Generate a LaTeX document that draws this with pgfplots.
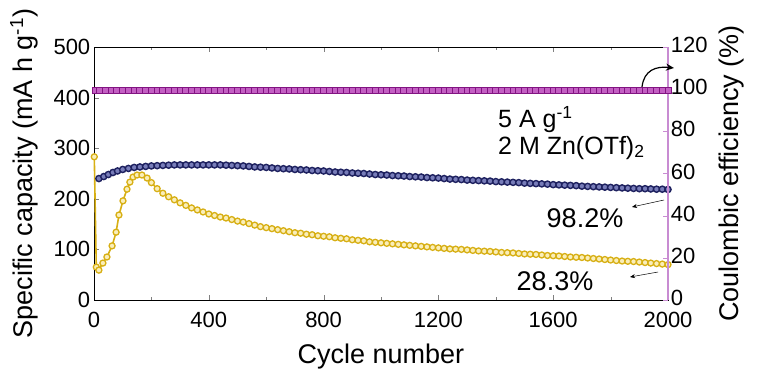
\documentclass[border=0pt]{standalone}
\usepackage{pgfplots}
\pgfplotsset{compat=1.18}
\usepackage{pgfplotstable}
\usepackage{fontspec}
\setmainfont{Liberation Sans}
\usetikzlibrary{arrows.meta}
\definecolor{navyc}{RGB}{30,33,95}
\definecolor{navyf}{RGB}{120,125,185}
\definecolor{goldc}{RGB}{215,175,20}
\definecolor{goldf}{RGB}{250,238,185}
\definecolor{purc}{RGB}{130,20,130}
\definecolor{purf}{RGB}{195,95,195}
\definecolor{violetax}{RGB}{200,140,210}

\pgfplotstableread{
c v
1 283
8 65
17 59
31 73
45 85
63 107
77 134
87 168
101 196
115 219
125 233
136 243
150 247
167 247
185 241
200 232
220 220
240 211
260 204
280 198
300 192
320 187
340 182
360 178
380 174
400 170
420 167
440 164
460 162
480 159
500 156
520 154
540 151
560 148
580 145
600 143
620 141
640 139
660 137
680 135
700 133
720 132
740 130
760 129
780 127
800 126
820 125
840 123
860 122
880 121
900 119
920 118
940 117
960 115
980 114
1000 113
1020 112
1040 111
1060 110
1080 109
1100 108
1120 107
1140 106
1160 105
1180 104
1200 103
1220 102
1240 101
1260 100.5
1280 100
1300 99
1320 98
1340 97
1360 96.5
1380 96
1400 95
1420 94
1440 93.5
1460 93
1480 92
1500 91
1520 90.5
1540 90
1560 89
1580 88
1600 87.5
1620 87
1640 86
1660 85
1680 84.5
1700 84
1720 83
1740 82
1760 81
1780 80
1800 79
1820 78
1840 77
1860 76.5
1880 76
1900 75
1920 74
1940 73
1960 72
1980 71
2000 70
}\yellowdata

\pgfplotstableread{
c v
17 240
34 244
50 248
66 252
82 255
100 258
120 260
140 262
160 263
180 264
200 265
220 265.5
240 266
260 266.5
280 267
300 267
320 267
340 267
360 267
380 267
400 267
420 267
440 267
460 266.5
480 266
500 265.5
520 265
540 264
560 263
580 262.5
600 262
620 261
640 260
660 259.5
680 259
700 258
720 257.5
740 257
760 256
780 255.5
800 255
820 254
840 253
860 252.5
880 252
900 251
920 250.5
940 250
960 249
980 248
1000 247.5
1020 247
1040 246
1060 245.5
1080 245
1100 244
1120 243.5
1140 243
1160 242
1180 241.5
1200 241
1220 240
1240 239
1260 238.5
1280 238
1300 237
1320 236.5
1340 236
1360 235.5
1380 235
1400 234
1420 233.5
1440 233
1460 232.5
1480 232
1500 231
1520 230.5
1540 230
1560 229.5
1580 229
1600 228
1620 227.5
1640 227
1660 226.5
1680 226
1700 225
1720 224.5
1740 224
1760 223.5
1780 223
1800 222.5
1820 222
1840 221.5
1860 221
1880 220.5
1900 220
1920 220
1940 219.5
1960 219
1980 219
2000 218.5
}\bluedata

\pgfplotstableread{
c v
5 99.6
20 99.6
40 99.6
60 99.6
80 99.6
100 99.6
120 99.6
140 99.6
160 99.6
180 99.6
200 99.6
220 99.6
240 99.6
260 99.6
280 99.6
300 99.6
320 99.6
340 99.6
360 99.6
380 99.6
400 99.6
420 99.6
440 99.6
460 99.6
480 99.6
500 99.6
520 99.6
540 99.6
560 99.6
580 99.6
600 99.6
620 99.6
640 99.6
660 99.6
680 99.6
700 99.6
720 99.6
740 99.6
760 99.6
780 99.6
800 99.6
820 99.6
840 99.6
860 99.6
880 99.6
900 99.6
920 99.6
940 99.6
960 99.6
980 99.6
1000 99.6
1020 99.6
1040 99.6
1060 99.6
1080 99.6
1100 99.6
1120 99.6
1140 99.6
1160 99.6
1180 99.6
1200 99.6
1220 99.6
1240 99.6
1260 99.6
1280 99.6
1300 99.6
1320 99.6
1340 99.6
1360 99.6
1380 99.6
1400 99.6
1420 99.6
1440 99.6
1460 99.6
1480 99.6
1500 99.6
1520 99.6
1540 99.6
1560 99.6
1580 99.6
1600 99.6
1620 99.6
1640 99.6
1660 99.6
1680 99.6
1700 99.6
1720 99.6
1740 99.6
1760 99.6
1780 99.6
1800 99.6
1820 99.6
1840 99.6
1860 99.6
1880 99.6
1900 99.6
1920 99.6
1940 99.6
1960 99.6
1980 99.6
2000 99.6
}\cedata

\begin{document}
\begin{tikzpicture}[x=1bp,y=1bp]
\useasboundingbox (0,0) rectangle (770,384);
\pgfplotsset{
  every axis/.append style={
    /pgf/number format/assume math mode=true,
    /pgf/number format/1000 sep={},
    tick label style={font=\fontsize{22bp}{26bp}\selectfont},
    label style={font=\fontsize{27bp}{31bp}\selectfont},
    tick align=inside,
    major tick length=5bp,
    minor tick length=3bp,
    line width=0.9bp,
  }
}
\begin{axis}[
  at={(94bp,84bp)}, anchor=south west,
  width=574bp, height=253bp, scale only axis,
  xmin=0, xmax=2000, ymin=0, ymax=500,
  xtick={0,400,...,2000}, minor xtick={200,600,...,1800},
  ytick={0,100,...,500}, ytick pos=left,
  xlabel={Cycle number},
  ylabel={Specific capacity (mA h g\textsuperscript{-1})},
  xlabel style={at={(axis description cs:0.5,-0.225)}, anchor=center},
  ylabel style={at={(axis description cs:-0.122,0.5)}, anchor=center},
  xticklabel style={inner ysep=0.5bp, yshift=-11bp},
  clip=false,
]
\addplot[goldc, line width=1.6bp, mark=*, mark size=3bp,
  mark options={draw=goldc, fill=goldf, line width=1.3bp}] table[x=c,y=v] {\yellowdata};
\addplot[navyc, line width=1.6bp, mark=*, mark size=3.1bp,
  mark options={draw=navyc, fill=navyf, line width=1.4bp}] table[x=c,y=v] {\bluedata};
\end{axis}
\begin{axis}[
  at={(94bp,84bp)}, anchor=south west,
  width=574bp, height=253bp, scale only axis,
  xmin=0, xmax=2000, ymin=0, ymax=120,
  axis x line=none, axis y line*=right,
  y axis line style={violetax, line width=1.2bp},
  ytick style={violetax},
  ytick={0,20,...,120},
  yticklabel style={inner ysep=0.5bp, xshift=-1bp, yshift=2bp},
  ylabel={Coulombic efficiency (\%)},
  ylabel style={at={(axis description cs:1.11,0.5)}, anchor=center, rotate=0},
  clip=false,
]
\addplot[purc, line width=1bp, mark=square*, mark size=3bp,
  mark options={draw=purc, fill=purf, line width=1bp}] table[x=c,y=v] {\cedata};
\end{axis}
\node[anchor=base west, inner sep=0pt, font=\fontsize{25bp}{29bp}\selectfont] at (498,257) {5 A g\textsuperscript{-1}};
\node[anchor=base west, inner sep=0pt, font=\fontsize{25bp}{29bp}\selectfont] at (498,230) {2 M Zn(OTf)\textsubscript{2}};
\node[anchor=base, font=\fontsize{27bp}{31bp}\selectfont] at (585,157) {98.2\%};
\node[anchor=base, font=\fontsize{27bp}{31bp}\selectfont] at (555,94) {28.3\%};
\draw[-{Stealth[length=5bp,width=4bp]}, line width=0.5bp] (664,184) -- (632,177);
\draw[-{Stealth[length=5bp,width=4bp]}, line width=0.5bp] (658,112) -- (630,107);
\draw[-{Stealth[length=8bp,width=7bp]}, line width=1.2bp] (642,297) .. controls (644,314) and (656,318) .. (674,316);
\end{tikzpicture}
\end{document}
